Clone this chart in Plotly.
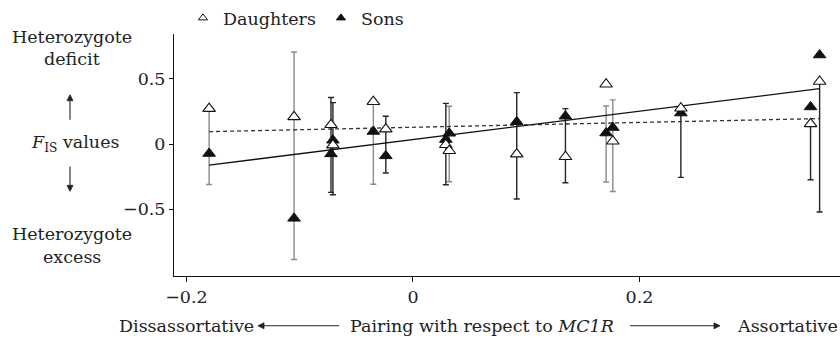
import plotly.graph_objects as go

# ---------------- data ----------------
x_pos = [-0.180, -0.105, -0.0724, -0.0707, -0.035, -0.024, 0.029, 0.032,
         0.0916, 0.1346, 0.1705, 0.1764, 0.2365, 0.351, 0.359]
daughters = [0.272, 0.209, 0.148, -0.008, 0.325, 0.115, -0.005, -0.051,
             -0.077, -0.097, 0.459, 0.022, 0.275, 0.155, 0.480]
sons = [-0.072, -0.569, -0.075, 0.030, 0.097, -0.090, 0.035, 0.083,
        0.171, 0.214, 0.085, 0.127, 0.238, 0.285, 0.683]
ci_low = [-0.310, -0.885, -0.370, -0.388, -0.308, -0.222, -0.312, -0.288,
          -0.421, -0.296, -0.290, -0.363, -0.255, -0.273, -0.520]
ci_high = [0.272, 0.706, 0.357, 0.318, 0.325, 0.214, 0.312, 0.290,
           0.395, 0.272, 0.292, 0.339, 0.238, 0.155, 0.480]
ci_shade = ["grey", "grey", "black", "black", "grey", "black", "black", "grey",
            "black", "black", "grey", "grey", "black", "black", "black"]

reg_series = ["Daughters", "Sons"]
reg_slope = [0.1855, 1.087]
reg_intercept = [0.129, 0.0347]
reg_dash = ["dash", "solid"]

x_tickvals = [-0.2, 0, 0.2]
x_ticktext = ["\u22120.2", "0", "0.2"]
y_tickvals = [-0.5, 0, 0.5]
y_ticktext = ["\u22120.5", "0", "0.5"]

FONT = "DejaVu Serif"
FS = 17.5
TXT = "#222222"

W, H = 840, 338
ML, MR, MT, MB = 174, 0, 33, 62


def px2paper(px, py):
    pw = W - ML - MR
    ph = H - MT - MB
    return (px - ML) / pw, (H - MB - py) / ph


fig = go.Figure()

# error bars (drawn as bars from ci_low up to ci_high), grouped by shade
shade_color = {"grey": "#8c8c8c", "black": "#262626"}
for shade, col in shade_color.items():
    idx = [i for i, s in enumerate(ci_shade) if s == shade]
    fig.add_trace(go.Scatter(
        x=[x_pos[i] for i in idx],
        y=[ci_low[i] for i in idx],
        mode="markers",
        marker=dict(size=1, opacity=0),
        error_y=dict(type="data", symmetric=False,
                     array=[ci_high[i] - ci_low[i] for i in idx],
                     arrayminus=[0] * len(idx),
                     color=col, thickness=1.4, width=3),
        showlegend=False, hoverinfo="skip",
    ))

# regression lines
xmin, xmax = min(x_pos), max(x_pos)
for name, b, a, d in zip(reg_series, reg_slope, reg_intercept, reg_dash):
    fig.add_trace(go.Scatter(
        x=[xmin, xmax], y=[a + b * xmin, a + b * xmax],
        mode="lines",
        line=dict(color="#111111" if d == "solid" else "#333333", width=1.3,
                  dash="4px,3px" if d == "dash" else "solid"),
        showlegend=False, hoverinfo="skip",
    ))

# points
fig.add_trace(go.Scatter(
    x=x_pos, y=sons, mode="markers", name="Sons",
    marker=dict(symbol="triangle-up", size=11, color="#111111",
                line=dict(color="#111111", width=1)),
    showlegend=False,
))
fig.add_trace(go.Scatter(
    x=x_pos, y=daughters, mode="markers", name="Daughters",
    marker=dict(symbol="triangle-up", size=11, color="white",
                line=dict(color="#111111", width=1.1)),
    showlegend=False,
))

# legend-only entries (smaller symbols as in the reference)
fig.add_trace(go.Scatter(
    x=[None], y=[None], mode="markers", name="Daughters",
    marker=dict(symbol="triangle-up", size=8, color="white",
                line=dict(color="#111111", width=1)),
))
fig.add_trace(go.Scatter(
    x=[None], y=[None], mode="markers", name="Sons",
    marker=dict(symbol="triangle-up", size=8, color="#111111",
                line=dict(color="#111111", width=1)),
))

annotations = []
shapes = []


def add_text(text, px, py, xanchor="center"):
    xp, yp = px2paper(px, py)
    annotations.append(dict(text=text, x=xp, y=yp, xref="paper", yref="paper",
                            xanchor=xanchor, yanchor="middle", showarrow=False,
                            font=dict(family=FONT, size=FS, color=TXT)))


def add_arrow(x0, y0, x1, y1, head=6, half=3):
    # arrow from (x0,y0) tail to (x1,y1) head, in pixels
    xt, yt = px2paper(x0, y0)
    xh, yh = px2paper(x1, y1)
    # shaft
    dx, dy = x1 - x0, y1 - y0
    L = (dx * dx + dy * dy) ** 0.5
    ux, uy = dx / L, dy / L
    bx, by = x1 - ux * head, y1 - uy * head
    xb, yb = px2paper(bx, by)
    shapes.append(dict(type="line", xref="paper", yref="paper",
                       x0=xt, y0=yt, x1=xb, y1=yb,
                       line=dict(color=TXT, width=1.1)))
    # head
    px_, py_ = -uy, ux
    p1 = px2paper(bx + px_ * half, by + py_ * half)
    p2 = px2paper(bx - px_ * half, by - py_ * half)
    path = f"M {xh} {yh} L {p1[0]} {p1[1]} L {p2[0]} {p2[1]} Z"
    shapes.append(dict(type="path", xref="paper", yref="paper", path=path,
                       fillcolor=TXT, line=dict(color=TXT, width=0.8)))


add_text("Heterozygote", 72, 36)
add_text("deficit", 72, 58)
add_arrow(70, 119, 70, 94)
add_text("<i>F</i><sub>IS</sub> values", 75, 143)
add_arrow(70, 166, 70, 191)
add_text("Heterozygote", 72, 234)
add_text("excess", 72, 257)

add_text("Dissassortative", 186, 326)
add_arrow(339, 326, 258, 326)
add_text("Pairing with respect to <i>MC1R</i>", 482, 326)
add_arrow(630, 326, 720, 326)
add_text("Assortative", 787, 326)

fig.update_layout(
    width=W, height=H,
    margin=dict(l=ML, r=MR, t=MT, b=MB),
    paper_bgcolor="white", plot_bgcolor="white",
    font=dict(family=FONT, size=FS, color=TXT),
    showlegend=True,
    legend=dict(orientation="h", x=px2paper(183, 0)[0], y=px2paper(0, 17)[1],
                xanchor="left", yanchor="middle", bgcolor="rgba(0,0,0,0)",
                font=dict(family=FONT, size=FS, color=TXT),
                itemsizing="trace", tracegroupgap=0),
    annotations=annotations,
    shapes=shapes,
    xaxis=dict(range=[-0.211, 0.377], showgrid=False, zeroline=False,
               showline=True, linecolor="#111111", linewidth=1,
               ticks="outside", ticklen=5, tickwidth=1, tickcolor="#111111",
               tickvals=x_tickvals, ticktext=x_ticktext,
               tickfont=dict(family=FONT, size=FS, color=TXT)),
    yaxis=dict(range=[-1.011, 0.844], showgrid=False, zeroline=False,
               showline=True, linecolor="#111111", linewidth=1,
               ticks="outside", ticklen=4, tickwidth=1, tickcolor="#111111",
               tickvals=y_tickvals, ticktext=y_ticktext,
               tickfont=dict(family=FONT, size=FS, color=TXT)),
)

fig.write_html("out.html")
